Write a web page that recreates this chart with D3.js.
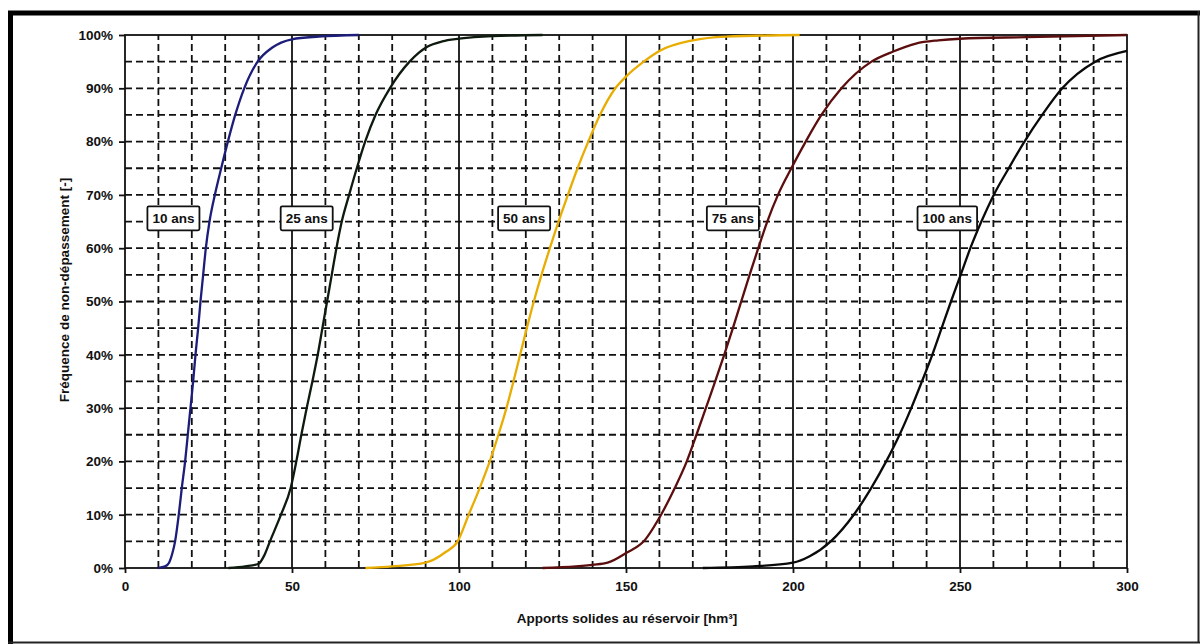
<!DOCTYPE html>
<html lang="fr">
  <head>
    <meta charset="UTF-8" />
    <title>Apports solides</title>
    <script src="https://cdn.jsdelivr.net/npm/d3@7"></script>
    <style>
      body { margin: 0; background: #fff; }
      svg { display: block; font-family: "Liberation Sans", Arial, sans-serif; }
      .tick-label { font-size: 13.5px; font-weight: bold; fill: #111; }
      .title { font-size: 13.5px; font-weight: bold; fill: #111; }
      .box-label { font-size: 13.5px; font-weight: bold; fill: #111; }
    </style>
  </head>
  <body>
    <svg width="1203" height="644"></svg>

    <script>
      // series: [apports hm3, frequence %]
      var serie10 = [
        [10, 0], [12, 0.3], [13.2, 1], [14.2, 2.8], [15, 5], [16.1, 10], [17, 15],
        [18, 20], [18.8, 25], [19.6, 30], [20.4, 35], [21.1, 40], [21.9, 45],
        [22.6, 50], [23.4, 55], [24.2, 60], [25.3, 65], [26.9, 70], [28.8, 75],
        [30.8, 80], [33, 85], [35.7, 90], [39.7, 95], [44, 97.6], [50, 99.2],
        [58, 99.7], [70, 100]
      ];
      var serie25 = [
        [31, 0], [36, 0.3], [40, 0.8], [41.8, 2.5], [43.4, 5], [46.7, 10],
        [49.6, 15], [51.3, 20], [52.8, 25], [54.4, 30], [56.1, 35], [57.7, 40],
        [59.1, 45], [60.5, 50], [61.9, 55], [63.3, 60], [64.9, 65], [67.1, 70],
        [69.4, 75], [71.9, 80], [75, 85], [79.3, 90], [85.2, 95], [90.5, 97.8],
        [95, 98.8], [100, 99.3], [110, 99.8], [125, 100]
      ];
      var serie50 = [
        [72, 0], [80, 0.3], [90, 1], [96, 3], [99.6, 5], [102.9, 10],
        [106.2, 15], [109.2, 20], [111.8, 25], [114.2, 30], [116.3, 35],
        [118.3, 40], [120.3, 45], [122.4, 50], [124.7, 55], [127.2, 60],
        [129.8, 65], [132.6, 70], [135.5, 75], [138.7, 80], [142.2, 85],
        [146.8, 90], [150, 92.2], [155.3, 95], [160, 97], [170, 99],
        [180, 99.7], [202, 100]
      ];
      var serie75 = [
        [125, 0], [135, 0.3], [140, 0.6], [144.5, 1], [150, 2.8], [155.3, 5],
        [160.5, 10], [164.6, 15], [168.2, 20], [171.1, 25], [173.9, 30],
        [176.7, 35], [179.4, 40], [182, 45], [184.5, 50], [187, 55], [189.6, 60],
        [192.3, 65], [195.5, 70], [199.5, 75], [203.8, 80], [208.5, 85],
        [214.5, 90], [223.5, 95], [230, 96.9], [236.8, 98.4], [243.5, 99],
        [250, 99.3], [270, 99.6], [300, 100]
      ];
      var serie100 = [
        [173, 0], [188, 0.3], [200, 1], [205, 2.2], [211.3, 5], [218.2, 10],
        [223.4, 15], [227.9, 20], [231.9, 25], [235.4, 30], [238.6, 35],
        [241.7, 40], [244.5, 45], [247.3, 50], [250.2, 55], [253.1, 60],
        [256.4, 65], [260.1, 70], [264.6, 75], [269.3, 80], [274.6, 85],
        [280.6, 90], [290.5, 95], [300, 97]
      ];

      var seriesNames = ["10 ans", "25 ans", "50 ans", "75 ans", "100 ans"];
      var seriesData = [serie10, serie25, serie50, serie75, serie100];
      var seriesColors = ["#1c1c7a", "#0d1a0d", "#e8ad00", "#5c0d0d", "#0a0a0a"];

      // label boxes, placed in data units
      var labelX = [14.5, 54.4, 119.5, 182, 246.2];
      var labelY = [65.6, 65.6, 65.6, 65.6, 65.6];

      var xTicks = [0, 50, 100, 150, 200, 250, 300];
      var yTicks = [0, 10, 20, 30, 40, 50, 60, 70, 80, 90, 100];

      var svg = d3.select("svg");

      // outer frame
      svg.append("line").attr("x1", 8).attr("x2", 1200).attr("y1", 13).attr("y2", 13)
        .attr("stroke", "#000").attr("stroke-width", 5);
      svg.append("line").attr("x1", 10.5).attr("x2", 10.5).attr("y1", 11).attr("y2", 644)
        .attr("stroke", "#000").attr("stroke-width", 5);
      svg.append("line").attr("x1", 1198.5).attr("x2", 1198.5).attr("y1", 11).attr("y2", 643)
        .attr("stroke", "#222").attr("stroke-width", 2);
      svg.append("line").attr("x1", 8).attr("x2", 1200).attr("y1", 642.5).attr("y2", 642.5)
        .attr("stroke", "#222").attr("stroke-width", 2);

      var x = d3.scaleLinear().domain([0, 300]).range([125, 1127]),
        y = d3.scaleLinear().domain([0, 100]).range([568, 35]);

      var grid = svg.append("g");

      grid.selectAll(".vgrid")
        .data(d3.range(10, 300, 10))
        .enter()
        .append("line")
        .attr("class", "vgrid")
        .attr("x1", function (d) { return x(d); })
        .attr("x2", function (d) { return x(d); })
        .attr("y1", y(0))
        .attr("y2", y(100))
        .attr("stroke", "#111")
        .attr("stroke-width", 1.8)
        .attr("stroke-dasharray", function (d) { return d % 50 === 0 ? null : "7,4"; });

      grid.selectAll(".hgrid")
        .data(d3.range(5, 100, 5))
        .enter()
        .append("line")
        .attr("class", "hgrid")
        .attr("x1", x(0))
        .attr("x2", x(300))
        .attr("y1", function (d) { return y(d); })
        .attr("y2", function (d) { return y(d); })
        .attr("stroke", "#111")
        .attr("stroke-width", 1.8)
        .attr("stroke-dasharray", "7,4");

      // plot border
      svg.append("rect")
        .attr("x", x(0))
        .attr("y", y(100))
        .attr("width", x(300) - x(0))
        .attr("height", y(0) - y(100))
        .attr("fill", "none")
        .attr("stroke", "#111")
        .attr("stroke-width", 1.8);

      var xAxis = svg.append("g")
        .attr("transform", "translate(0," + y(0) + ")")
        .call(d3.axisBottom(x).tickValues(xTicks).tickSize(5).tickPadding(8));
      xAxis.select(".domain").remove();
      xAxis.selectAll("line").attr("stroke", "#111").attr("stroke-width", 1.8);
      xAxis.selectAll("text").attr("class", "tick-label").attr("font-family", null).attr("font-size", null);

      var yAxis = svg.append("g")
        .attr("transform", "translate(" + x(0) + ",0)")
        .call(d3.axisLeft(y).tickValues(yTicks).tickSize(6).tickPadding(6)
          .tickFormat(function (d) { return d + "%"; }));
      yAxis.select(".domain").remove();
      yAxis.selectAll("line").attr("stroke", "#111").attr("stroke-width", 1.8);
      yAxis.selectAll("text").attr("class", "tick-label").attr("font-family", null).attr("font-size", null);

      var line = d3.line()
        .x(function (d) { return x(d[0]); })
        .y(function (d) { return y(d[1]); })
        .curve(d3.curveMonotoneX);

      svg.selectAll(".curve")
        .data(seriesData)
        .enter()
        .append("path")
        .attr("class", "curve")
        .attr("d", line)
        .attr("fill", "none")
        .attr("stroke", function (d, i) { return seriesColors[i]; })
        .attr("stroke-width", 2.3);

      var boxes = svg.selectAll(".box")
        .data(seriesNames)
        .enter()
        .append("g")
        .attr("class", "box")
        .attr("transform", function (d, i) {
          return "translate(" + x(labelX[i]) + "," + y(labelY[i]) + ")";
        });

      boxes.append("text")
        .attr("class", "box-label")
        .attr("text-anchor", "middle")
        .attr("dy", "0.36em")
        .text(function (d) { return d; });

      boxes.each(function () {
        var g = d3.select(this);
        var bb = g.select("text").node().getBBox();
        g.insert("rect", "text")
          .attr("x", bb.x - 5)
          .attr("y", -12)
          .attr("width", bb.width + 10)
          .attr("height", 24)
          .attr("rx", 1.5)
          .attr("fill", "#fff")
          .attr("stroke", "#111")
          .attr("stroke-width", 1.8);
      });

      svg.append("text")
        .attr("class", "title")
        .attr("text-anchor", "middle")
        .attr("transform", "translate(64,290) rotate(-90)")
        .attr("dy", "0.35em")
        .text("Fréquence de non-dépassement [-]");

      svg.append("text")
        .attr("class", "title")
        .attr("text-anchor", "middle")
        .attr("x", 627)
        .attr("y", 618)
        .attr("dy", "0.35em")
        .text("Apports solides au réservoir [hm³]");
    </script>
  </body>
</html>
